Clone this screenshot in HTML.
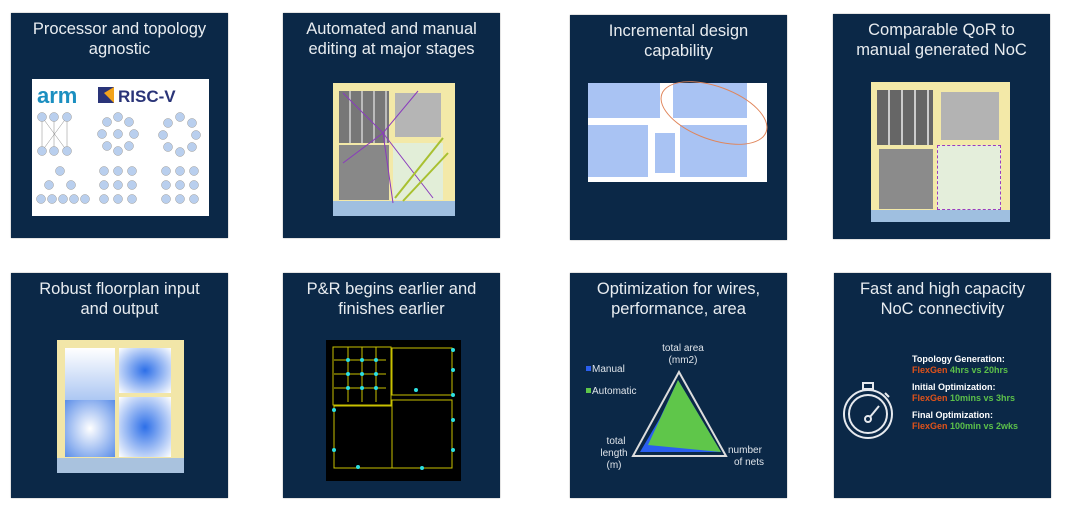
<!DOCTYPE html>
<html><head><meta charset="utf-8"><style>
body{margin:0;width:1080px;height:507px;background:#fff;position:relative;overflow:hidden;font-family:"Liberation Sans",sans-serif}
.t{position:absolute;width:217px;height:225px;background:#0b2847;box-shadow:0 0 1px #777}
.h{position:absolute;left:0;right:0;top:6px;text-align:center;color:#e8ecf0;font-size:16.5px;line-height:20px}
.a{position:absolute}
</style></head><body>
<div class="t" style="left:11px;top:13px"><div class="h">Processor and topology<br>agnostic</div>
<div class="a" style="left:21px;top:66px;width:177px;height:137px;background:#fff">
<svg width="177" height="137">
<text x="5" y="24" font-size="22" font-weight="bold" fill="#1b8fc0" font-family="Liberation Sans">arm</text>
<rect x="66" y="8" width="16" height="16" fill="#2a3478"/><polygon points="72,14 82,8 82,24" fill="#f2a31b"/>
<text x="86" y="23" font-size="17" font-weight="bold" fill="#2a3478" font-family="Liberation Sans">RISC-V</text>
<g fill="#b9cfee" stroke="#999" stroke-width=".5">
<g stroke="#888"><line x1="10" y1="38" x2="35" y2="72"/><line x1="35" y1="38" x2="10" y2="72"/><line x1="22" y1="38" x2="22" y2="72"/><line x1="10" y1="38" x2="10" y2="72"/><line x1="35" y1="38" x2="35" y2="72"/></g>
<circle cx="10" cy="38" r="4.5"/><circle cx="22" cy="38" r="4.5"/><circle cx="35" cy="38" r="4.5"/><circle cx="10" cy="72" r="4.5"/><circle cx="22" cy="72" r="4.5"/><circle cx="35" cy="72" r="4.5"/>
<circle cx="86" cy="55" r="4.5"/><circle cx="86" cy="38" r="4.5"/><circle cx="86" cy="72" r="4.5"/><circle cx="70" cy="55" r="4.5"/><circle cx="102" cy="55" r="4.5"/><circle cx="75" cy="43" r="4.5"/><circle cx="97" cy="43" r="4.5"/><circle cx="75" cy="67" r="4.5"/><circle cx="97" cy="67" r="4.5"/>
<circle cx="148" cy="38" r="4.5"/><circle cx="160" cy="44" r="4.5"/><circle cx="164" cy="56" r="4.5"/><circle cx="160" cy="68" r="4.5"/><circle cx="148" cy="73" r="4.5"/><circle cx="136" cy="68" r="4.5"/><circle cx="131" cy="56" r="4.5"/><circle cx="136" cy="44" r="4.5"/>
<circle cx="28" cy="92" r="4.5"/><circle cx="17" cy="106" r="4.5"/><circle cx="39" cy="106" r="4.5"/><circle cx="9" cy="120" r="4.5"/><circle cx="20" cy="120" r="4.5"/><circle cx="31" cy="120" r="4.5"/><circle cx="42" cy="120" r="4.5"/><circle cx="53" cy="120" r="4.5"/>
<circle cx="72" cy="92" r="4.5"/><circle cx="86" cy="92" r="4.5"/><circle cx="100" cy="92" r="4.5"/><circle cx="72" cy="106" r="4.5"/><circle cx="86" cy="106" r="4.5"/><circle cx="100" cy="106" r="4.5"/><circle cx="72" cy="120" r="4.5"/><circle cx="86" cy="120" r="4.5"/><circle cx="100" cy="120" r="4.5"/>
<circle cx="134" cy="92" r="4.5"/><circle cx="148" cy="92" r="4.5"/><circle cx="162" cy="92" r="4.5"/><circle cx="134" cy="106" r="4.5"/><circle cx="148" cy="106" r="4.5"/><circle cx="162" cy="106" r="4.5"/><circle cx="134" cy="120" r="4.5"/><circle cx="148" cy="120" r="4.5"/><circle cx="162" cy="120" r="4.5"/>
</g></svg></div></div>

<div class="t" style="left:283px;top:13px"><div class="h">Automated and manual<br>editing at major stages</div>
<div class="a" style="left:50px;top:70px;width:122px;height:133px;background:#f3e9a8">
<div class="a" style="left:6px;top:8px;width:50px;height:52px;background:repeating-linear-gradient(90deg,#777 0 10px,#bbb 10px 12px)"></div>
<div class="a" style="left:62px;top:10px;width:46px;height:44px;background:#b5b5b5"></div>
<div class="a" style="left:6px;top:62px;width:50px;height:55px;background:#888"></div>
<div class="a" style="left:60px;top:60px;width:50px;height:57px;background:#e2eed8"></div>
<div class="a" style="left:0;top:118px;width:122px;height:15px;background:#9fbfe0"></div>
<svg class="a" width="122" height="133" style="left:0;top:0"><g stroke="#8a3bbd" stroke-width="1"><line x1="50" y1="50" x2="10" y2="10"/><line x1="50" y1="50" x2="60" y2="120"/><line x1="50" y1="50" x2="100" y2="115"/><line x1="50" y1="50" x2="85" y2="8"/><line x1="50" y1="50" x2="10" y2="80"/></g><g stroke="#a8c030" stroke-width="2"><line x1="110" y1="55" x2="62" y2="115"/><line x1="115" y1="70" x2="70" y2="118"/></g></svg>
</div></div>

<div class="t" style="left:570px;top:15px"><div class="h">Incremental design<br>capability</div>
<div class="a" style="left:18px;top:68px;width:179px;height:99px;background:#fff">
<div class="a" style="left:0;top:0;width:72px;height:35px;background:#a9c3f3"></div>
<div class="a" style="left:85px;top:0;width:74px;height:35px;background:#a9c3f3"></div>
<div class="a" style="left:0;top:42px;width:60px;height:52px;background:#a9c3f3"></div>
<div class="a" style="left:92px;top:42px;width:67px;height:52px;background:#a9c3f3"></div>
<div class="a" style="left:67px;top:50px;width:20px;height:40px;background:#a9c3f3"></div>
<div class="a" style="left:70px;top:3px;width:110px;height:52px;border:1.5px solid #e0855a;border-radius:50%;transform:rotate(20deg)"></div>
</div></div>

<div class="t" style="left:833px;top:14px"><div class="h">Comparable QoR to<br>manual generated NoC</div>
<div class="a" style="left:38px;top:68px;width:139px;height:140px;background:#f3e9a8">
<div class="a" style="left:6px;top:8px;width:56px;height:55px;background:repeating-linear-gradient(90deg,#666 0 11px,#ccc 11px 13px)"></div>
<div class="a" style="left:70px;top:10px;width:58px;height:48px;background:#b3b3b3"></div>
<div class="a" style="left:8px;top:67px;width:54px;height:60px;background:#8b8b8b"></div>
<div class="a" style="left:66px;top:63px;width:62px;height:63px;background:#e4eedb;border:1px dashed #9a3cc0"></div>
<div class="a" style="left:0;top:128px;width:139px;height:12px;background:#9fbfe0"></div>
</div></div>

<div class="t" style="left:11px;top:273px"><div class="h">Robust floorplan input<br>and output</div>
<div class="a" style="left:46px;top:67px;width:127px;height:133px;background:#f2e6a8">
<div class="a" style="left:8px;top:8px;width:50px;height:55px;background:linear-gradient(#fff,#a8c4f2)"></div>
<div class="a" style="left:62px;top:8px;width:52px;height:45px;background:radial-gradient(#2d6fe8,#fff)"></div>
<div class="a" style="left:8px;top:60px;width:50px;height:57px;background:radial-gradient(#fff,#5a8de8)"></div>
<div class="a" style="left:62px;top:57px;width:52px;height:60px;background:radial-gradient(#2d6fe8,#fff)"></div>
<div class="a" style="left:0;top:118px;width:127px;height:15px;background:#a9c2de"></div>
</div></div>

<div class="t" style="left:283px;top:273px"><div class="h">P&amp;R begins earlier and<br>finishes earlier</div>
<div class="a" style="left:43px;top:67px;width:135px;height:141px;background:#000">
<svg width="135" height="141"><g fill="none" stroke="#c8c000" stroke-width="1"><rect x="7" y="7" width="58" height="58"/><rect x="66" y="8" width="60" height="47"/><rect x="8" y="66" width="58" height="62"/><rect x="66" y="60" width="60" height="68"/>
<path d="M8 20H60M8 34H60M8 48H60M22 7V62M36 7V62M50 7V62"/></g>
<g fill="#2de0e0"><circle cx="22" cy="20" r="2"/><circle cx="36" cy="20" r="2"/><circle cx="50" cy="20" r="2"/><circle cx="22" cy="34" r="2"/><circle cx="36" cy="34" r="2"/><circle cx="50" cy="34" r="2"/><circle cx="22" cy="48" r="2"/><circle cx="36" cy="48" r="2"/><circle cx="50" cy="48" r="2"/><circle cx="127" cy="10" r="2"/><circle cx="127" cy="30" r="2"/><circle cx="127" cy="55" r="2"/><circle cx="127" cy="80" r="2"/><circle cx="127" cy="110" r="2"/><circle cx="32" cy="127" r="2"/><circle cx="96" cy="128" r="2"/><circle cx="90" cy="50" r="2"/><circle cx="8" cy="70" r="2"/><circle cx="8" cy="110" r="2"/></g></svg>
</div></div>

<div class="t" style="left:570px;top:273px"><div class="h">Optimization for wires,<br>performance, area</div>
<svg class="a" width="217" height="225" style="left:0;top:0">
<polygon points="109,99 156,183 63,183" fill="none" stroke="#ddd" stroke-width="2"/>
<polygon points="108,107 151,179 70,179 90,145" fill="#2a5ff0"/>
<polygon points="108,107 151,179 78,172" fill="#5fc64a"/>
<g fill="#dfe4ea" font-size="10" font-family="Liberation Sans"><text x="113" y="78" text-anchor="middle">total area</text><text x="113" y="90" text-anchor="middle">(mm2)</text>
<text x="46" y="171" text-anchor="middle">total</text><text x="44" y="183" text-anchor="middle">length</text><text x="44" y="195" text-anchor="middle">(m)</text>
<text x="158" y="180">number</text><text x="164" y="192">of nets</text>
<text x="22" y="99">Manual</text><text x="22" y="121">Automatic</text></g>
<rect x="16" y="93" width="5" height="5" fill="#2a5ff0"/><rect x="16" y="115" width="5" height="5" fill="#5fc64a"/>
</svg></div>

<div class="t" style="left:834px;top:273px"><div class="h">Fast and high capacity<br>NoC connectivity</div>
<svg class="a" width="217" height="225" style="left:0;top:0">
<g fill="none" stroke="#e6e9ee" stroke-width="2"><circle cx="34" cy="141" r="24"/><circle cx="34" cy="141" r="19"/><rect x="29" y="110" width="10" height="6"/><line x1="34" y1="116" x2="34" y2="117"/><circle cx="34" cy="146" r="3"/><line x1="36" y1="144" x2="45" y2="133"/><line x1="51" y1="120" x2="55" y2="124"/></g>
<g font-size="9" font-family="Liberation Sans" font-weight="bold"><text x="78" y="89" fill="#fff">Topology Generation:</text><text x="78" y="100"><tspan fill="#e0521a">FlexGen</tspan><tspan fill="#5cc04a"> 4hrs vs 20hrs</tspan></text>
<text x="78" y="117" fill="#fff">Initial Optimization:</text><text x="78" y="128"><tspan fill="#e0521a">FlexGen</tspan><tspan fill="#5cc04a"> 10mins vs 3hrs</tspan></text>
<text x="78" y="145" fill="#fff">Final Optimization:</text><text x="78" y="156"><tspan fill="#e0521a">FlexGen</tspan><tspan fill="#5cc04a"> 100min vs 2wks</tspan></text></g>
</svg></div>
</body></html>
